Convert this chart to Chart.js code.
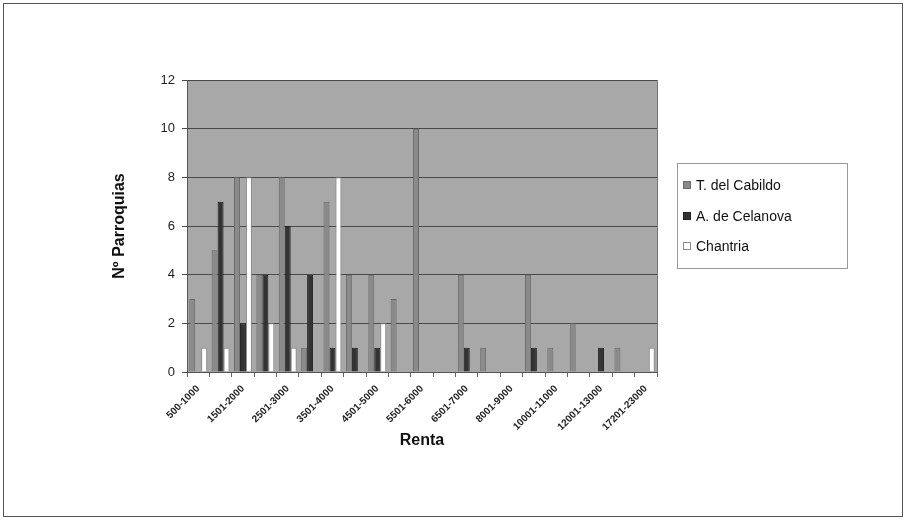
<!DOCTYPE html>
<html>
<head>
<meta charset="utf-8">
<script src="https://cdn.jsdelivr.net/npm/chart.js@4.4.1/dist/chart.umd.min.js"></script>
<style>
html,body{margin:0;padding:0;background:#fff;}
#wrap{width:906px;height:520px;position:relative;}
</style>
</head>
<body>
<div id="wrap"><canvas id="c" width="906" height="520"></canvas></div>
<script>
const categories = ["500-1000","1001-1500","1501-2000","2001-2500","2501-3000","3001-3500","3501-4000","4001-4500","4501-5000","5001-5500","5501-6000","6001-6500","6501-7000","7001-8000","8001-9000","9001-10000","10001-11000","11001-12000","12001-13000","13001-17200","17201-23000"];
const cabildo  = [3,5,8,4,8,1,7,4,4,3,10,0,4,1,0,4,1,2,0,1,0];
const celanova = [0,7,2,4,6,4,1,1,1,0,0,0,1,0,0,1,0,0,1,0,0];
const chantria = [1,1,8,2,1,0,8,0,2,0,0,0,0,0,0,0,0,0,0,0,1];
const seriesNames = ["T. del Cabildo","A. de Celanova","Chantria"];
const yTicks = [0,2,4,6,8,10,12];

const fills = ["#8a8a8a","#333333","#ffffff"];
const borders = ["#6a6a6a","#222222","#8a8a8a"];

const frame = {
  id:'frame',
  beforeDraw(chart){
    const {ctx, chartArea:a} = chart;
    ctx.save();
    ctx.fillStyle = '#fff';
    ctx.fillRect(0,0,chart.width,chart.height);
    ctx.fillStyle = '#a8a8a8';
    ctx.fillRect(a.left,a.top,a.right-a.left,a.bottom-a.top);
    ctx.restore();
  },
  afterDraw(chart){
    const ctx = chart.ctx;
    const a = chart.chartArea;
    ctx.save();
    ctx.strokeStyle = '#777';
    ctx.lineWidth = 1;
    ctx.beginPath();
    ctx.moveTo(Math.round(a.right)+0.5,a.top);
    ctx.lineTo(Math.round(a.right)+0.5,a.bottom);
    ctx.stroke();
    ctx.strokeStyle = '#555';
    ctx.strokeRect(3.5,3.5,899,513);
    // legend
    ctx.strokeStyle = '#999';
    ctx.strokeRect(677.5,163.5,170,105);
    ctx.font = '14px Arial, "Liberation Sans", sans-serif';
    ctx.textBaseline = 'middle';
    const ys = [185,216,246];
    chart.data.datasets.forEach((ds,i)=>{
      ctx.fillStyle = ds.backgroundColor;
      ctx.fillRect(683,ys[i]-4,8,8);
      ctx.strokeStyle = ds.borderColor;
      ctx.strokeRect(683.5,ys[i]-3.5,7,7);
      ctx.fillStyle = '#111';
      ctx.fillText(ds.label,696,ys[i]+1);
    });
    ctx.restore();
  }
};

new Chart(document.getElementById('c'),{
  type:'bar',
  data:{
    labels:categories,
    datasets:[
      {label:seriesNames[0],data:cabildo,backgroundColor:fills[0],borderColor:borders[0],borderWidth:1},
      {label:seriesNames[1],data:celanova,backgroundColor:fills[1],borderColor:borders[1],borderWidth:1},
      {label:seriesNames[2],data:chantria,backgroundColor:fills[2],borderColor:borders[2],borderWidth:1}
    ]
  },
  options:{
    responsive:false,
    animation:false,
    layout:{padding:{left:106,right:249,top:80,bottom:66}},
    datasets:{bar:{categoryPercentage:0.8,barPercentage:1.0}},
    plugins:{legend:{display:false},tooltip:{enabled:false}},
    scales:{
      x:{
        afterFit(s){s.height=82;},
        grid:{display:true,drawOnChartArea:false,offset:true,tickLength:5,color:'#666'},
        border:{display:true,color:'#555'},
        ticks:{
          autoSkip:false,maxRotation:45,minRotation:45,padding:6,
          color:'#222',font:{family:'Arial, "Liberation Sans", sans-serif',size:10,weight:'bold'},
          callback(v,i){return i%2===0?categories[i]:'';}
        },
        title:{display:true,text:'Renta',color:'#111',padding:4,font:{family:'Arial, "Liberation Sans", sans-serif',size:16,weight:'bold'}}
      },
      y:{
        min:0,max:12,
        afterFit(s){s.width=81;},
        afterBuildTicks(s){s.ticks=yTicks.map(v=>({value:v}));},
        grid:{color:'#4a4a4a',lineWidth:1,tickLength:5},
        border:{display:true,color:'#555'},
        ticks:{color:'#222',padding:7,font:{family:'Arial, "Liberation Sans", sans-serif',size:13}},
        title:{display:true,text:'Nº Parroquias',color:'#111',padding:4,font:{family:'Arial, "Liberation Sans", sans-serif',size:16,weight:'bold'}}
      }
    }
  },
  plugins:[frame]
});
</script>
</body>
</html>
